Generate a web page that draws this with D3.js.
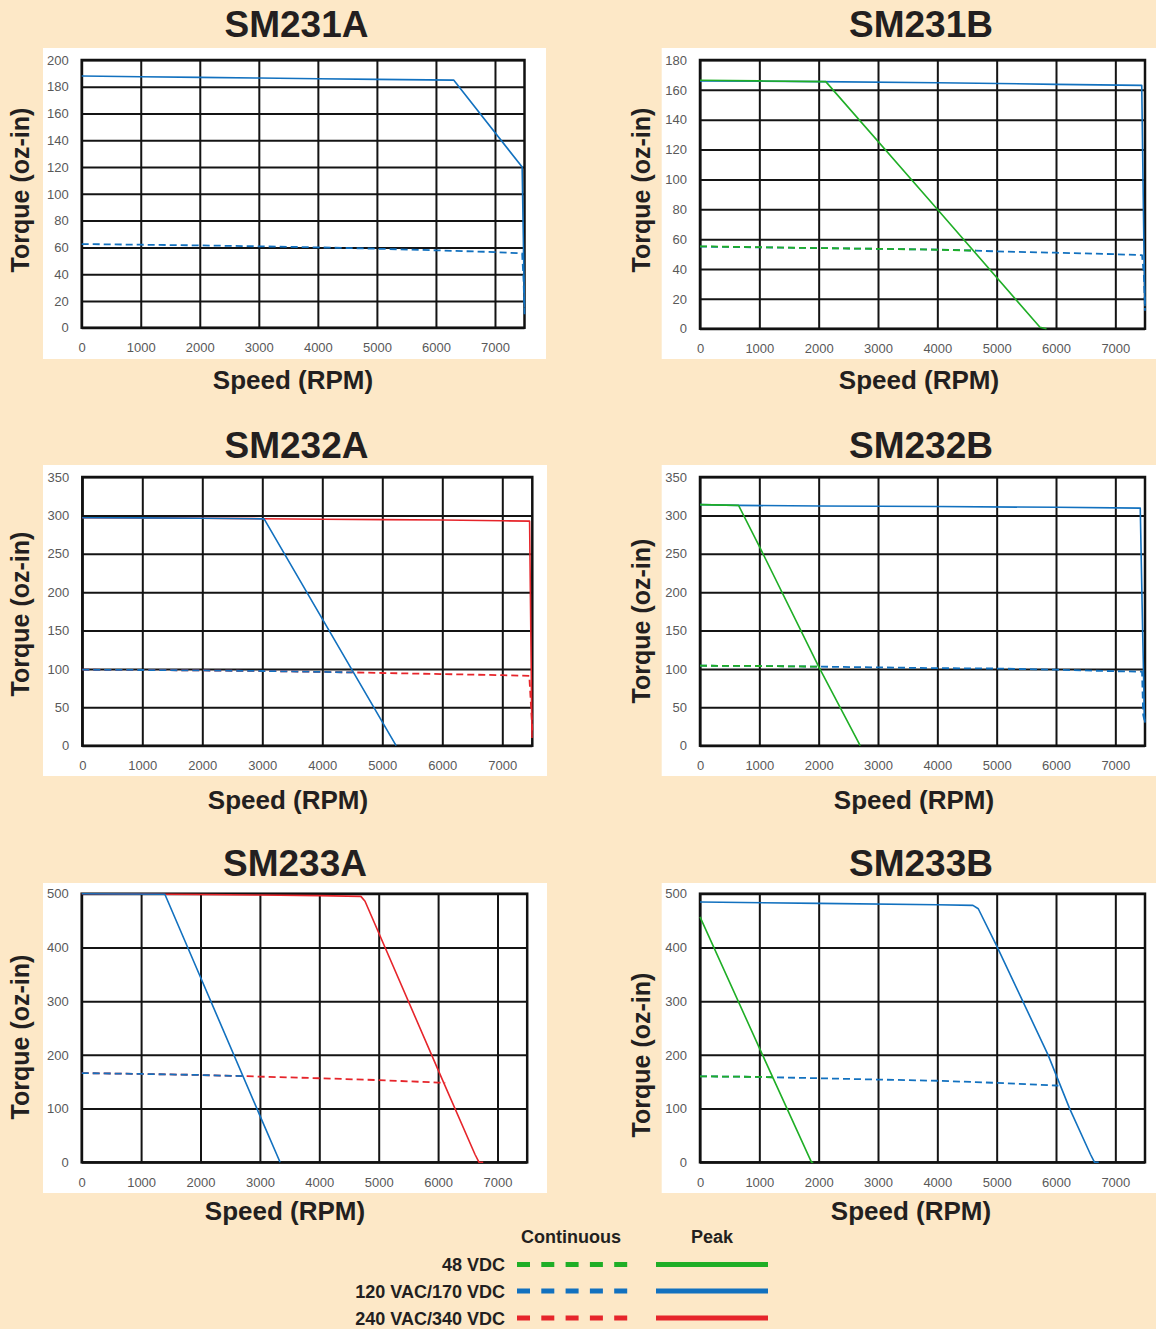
<!DOCTYPE html>
<html>
<head>
<meta charset="utf-8">
<script src="https://cdn.jsdelivr.net/npm/d3@7"></script>
<style>
  body { margin: 0; background: #fde8c7; }
  svg { display: block; }
  .grid line { stroke: #141414; stroke-width: 2; }
  .grid path { display: none; }
  .tick text { fill: #595959; font-family: "Liberation Sans", Arial, sans-serif; font-size: 13px; }
</style>
</head>
<body>
<script>
// ---- data ----
var models = ["SM231A", "SM231B", "SM232A", "SM232B", "SM233A", "SM233B"];
var yMax = [200, 180, 350, 350, 500, 500];
var yStep = [20, 20, 50, 50, 100, 100];
var xTicks = [0, 1000, 2000, 3000, 4000, 5000, 6000, 7000];
var xMax = 7500;
var voltages = ["48 VDC", "120 VAC/170 VDC", "240 VAC/340 VDC"];
var voltColors = ["#1fae26", "#1271bf", "#e6252b"];

// speed (rpm), torque (oz-in)
var sm231aPeak120 = [[0,188],[1000,187.5],[2000,187],[3000,186.5],[4000,186],[5000,185.5],[6300,185],[7460,120],[7500,15]];
var sm231aCont120 = [[0,62.5],[1000,62],[2000,61.5],[3000,60.8],[4000,60],[5000,59],[6000,57.8],[7000,56.5],[7460,55.5],[7485,35],[7500,10]];

var sm231bPeak120 = [[0,166],[2000,165.5],[4000,164.8],[6000,163.7],[7445,163],[7480,60],[7500,15]];
var sm231bPeak48 = [[0,166.4],[1000,166],[2120,165.5],[4000,80],[5730,1],[5840,0]];
var sm231bCont120 = [[0,55],[1000,54.5],[2000,54],[3000,53.5],[4000,53],[4650,52.3],[5000,51.8],[6000,50.9],[7000,49.9],[7450,49.3],[7480,37],[7500,12]];
var sm231bCont48 = [[0,55.2],[1000,54.6],[2000,54],[3000,53.5],[4000,52.9],[4650,52.3]];

var sm232aPeak240 = [[0,297],[1000,296.8],[2000,296.3],[3000,295.7],[4000,295],[5000,294.5],[6000,294],[7000,293],[7455,292.5],[7475,150],[7495,10]];
var sm232aPeak120 = [[0,297],[1000,296.8],[2000,296.3],[3030,295.5],[4000,165.2],[5230,0]];
var sm232aCont240 = [[0,99],[1000,98.6],[2000,98],[3000,97.3],[4500,95.5],[5000,94.7],[6000,93.3],[7000,91.8],[7450,91],[7480,50],[7500,20]];
var sm232aCont120 = [[0,99],[1000,98.6],[2000,98],[3000,97.3],[4500,95.5]];

var sm232bPeak120 = [[0,314],[650,313],[2000,312.3],[4000,311.5],[6000,310.5],[7420,309.5],[7460,150],[7490,40],[7500,30]];
var sm232bPeak48 = [[0,314],[650,313],[1000,259.6],[2000,103],[2700,0]];
var sm232bCont120 = [[0,104.2],[1000,103.8],[2000,103],[3000,102],[4000,101],[5000,100.5],[6000,99],[7000,97],[7450,96.5],[7470,40],[7500,30]];
var sm232bCont48 = [[0,104.2],[1000,103.8],[2000,103]];

var sm233aPeak240 = [[0,500],[1400,499],[2000,498.5],[3000,497.5],[4000,496.5],[4700,495],[4770,486],[6000,172],[6620,15],[6690,0],[6760,0]];
var sm233aPeak120 = [[0,500],[1400,499],[2000,344.5],[3000,87],[3340,0]];
var sm233aCont240 = [[0,166],[1000,164.5],[2000,162.5],[2700,160.5],[3000,159.5],[4000,156.5],[5000,153],[6000,148.5],[6120,148]];
var sm233aCont120 = [[0,166],[1000,164.5],[2000,162.5],[2700,160.5]];

var sm233bPeak120 = [[0,484.5],[2000,482],[4000,479.5],[4600,478.3],[4690,472],[5000,403],[5866,200],[6230,100],[6580,15],[6650,0],[6720,0]];
var sm233bPeak48 = [[0,457],[1000,213],[1880,0],[1910,0]];
var sm233bCont120 = [[0,160],[1000,159],[1230,158.3],[2000,156.5],[3000,154],[4000,151.8],[5000,147.8],[6000,143],[6040,142.5]];
var sm233bCont48 = [[0,160],[1000,159],[1230,158.3]];

// model index, voltage index, continuous?, points  (drawing order)
var series = [
    [0, 1, true, sm231aCont120], [0, 1, false, sm231aPeak120],
    [1, 1, true, sm231bCont120], [1, 1, false, sm231bPeak120], [1, 0, true, sm231bCont48], [1, 0, false, sm231bPeak48],
    [2, 2, true, sm232aCont240], [2, 2, false, sm232aPeak240], [2, 1, true, sm232aCont120], [2, 1, false, sm232aPeak120],
    [3, 1, true, sm232bCont120], [3, 1, false, sm232bPeak120], [3, 0, true, sm232bCont48], [3, 0, false, sm232bPeak48],
    [4, 2, true, sm233aCont240], [4, 2, false, sm233aPeak240], [4, 1, true, sm233aCont120], [4, 1, false, sm233aPeak120],
    [5, 1, true, sm233bCont120], [5, 1, false, sm233bPeak120], [5, 0, true, sm233bCont48], [5, 0, false, sm233bPeak48]
];

// ---- layout ----
// white box [x0,y0,x1,y1], plot [left,top,right,bottom], title, y label, x label anchors
var layout = [
    {box: [43, 48, 546, 359],     plot: [81.7, 60, 524.5, 327.7],   title: [296.5, 37],  ylab: [29, 190],   xlab: [293, 389]},
    {box: [661.7, 48, 1156, 359], plot: [700, 60, 1145, 328.7],     title: [921, 37],    ylab: [650, 190],  xlab: [919, 389]},
    {box: [43, 465, 547, 776],    plot: [82.3, 477, 532.3, 745.7],  title: [296.5, 458], ylab: [29, 614],   xlab: [288, 809]},
    {box: [661.7, 465, 1156, 776],plot: [700, 477, 1145, 745.7],    title: [921, 458],   ylab: [650, 621],  xlab: [914, 809]},
    {box: [43, 883, 547, 1193],   plot: [81.7, 893.7, 527.2, 1162.3], title: [295, 876], ylab: [29, 1037],  xlab: [285, 1220]},
    {box: [661.7, 883, 1156, 1193], plot: [700, 893.7, 1145, 1162.3], title: [921, 876], ylab: [650, 1055], xlab: [911, 1220]}
];

var W = 1156, H = 1329;
var textColor = "#231f20";
var boldFont = "'Liberation Sans', Arial, Helvetica, sans-serif";

var svg = d3.select("body").append("svg").attr("width", W).attr("height", H);
svg.append("rect").attr("width", W).attr("height", H).attr("fill", "#fde8c7");

models.forEach(function(name, i) {
    var L = layout[i];
    var p = L.plot;
    var w = p[2] - p[0], h = p[3] - p[1];

    svg.append("rect")
        .attr("x", L.box[0]).attr("y", L.box[1])
        .attr("width", L.box[2] - L.box[0]).attr("height", L.box[3] - L.box[1])
        .attr("fill", "#fff");

    var x = d3.scaleLinear().domain([0, xMax]).range([0, w]);
    var y = d3.scaleLinear().domain([0, yMax[i]]).range([h, 0]);
    var yTicks = d3.range(0, yMax[i] + 1, yStep[i]);

    var g = svg.append("g").attr("transform", "translate(" + p[0] + "," + p[1] + ")");

    g.append("g").attr("class", "grid")
        .call(d3.axisLeft(y).tickValues(yTicks).tickSize(-w).tickPadding(13).tickFormat(d3.format("d")));
    g.append("g").attr("class", "grid")
        .attr("transform", "translate(0," + h + ")")
        .call(d3.axisBottom(x).tickValues(xTicks).tickSize(-h).tickPadding(15).tickFormat(d3.format("d")));

    g.append("rect").attr("width", w).attr("height", h)
        .attr("fill", "none").attr("stroke", "#111").attr("stroke-width", 2.5);

    var line = d3.line().x(function(d) { return x(d[0]); }).y(function(d) { return y(d[1]); });

    series.filter(function(s) { return s[0] === i; }).forEach(function(s) {
        g.append("path")
            .datum(s[3])
            .attr("d", line)
            .attr("fill", "none")
            .attr("stroke", voltColors[s[1]])
            .attr("stroke-width", s[2] ? 1.8 : 1.6)
            .attr("stroke-dasharray", s[2] ? "7,4" : null)
            .attr("stroke-linejoin", "round");
    });

    svg.append("text")
        .attr("x", L.title[0]).attr("y", L.title[1])
        .attr("text-anchor", "middle")
        .style("font-family", boldFont).style("font-weight", "bold").style("font-size", "37px")
        .attr("fill", textColor)
        .text(name);

    svg.append("text")
        .attr("transform", "translate(" + L.ylab[0] + "," + L.ylab[1] + ")rotate(-90)")
        .attr("text-anchor", "middle")
        .style("font-family", boldFont).style("font-weight", "bold").style("font-size", "25px")
        .attr("fill", textColor)
        .text("Torque (oz-in)");

    svg.append("text")
        .attr("x", L.xlab[0]).attr("y", L.xlab[1])
        .attr("text-anchor", "middle")
        .style("font-family", boldFont).style("font-weight", "bold").style("font-size", "26px")
        .attr("fill", textColor)
        .text("Speed (RPM)");
});

// ---- legend ----
var legend = svg.append("g");
var legRows = [1264.5, 1291, 1318];
var legHead = [["Continuous", 571], ["Peak", 712]];

legHead.forEach(function(hd) {
    legend.append("text")
        .attr("x", hd[1]).attr("y", 1243)
        .attr("text-anchor", "middle")
        .style("font-family", boldFont).style("font-weight", "bold").style("font-size", "18px")
        .attr("fill", textColor)
        .text(hd[0]);
});

voltages.forEach(function(v, k) {
    var yy = legRows[k];
    legend.append("text")
        .attr("x", 505).attr("y", yy + 6.5)
        .attr("text-anchor", "end")
        .style("font-family", boldFont).style("font-weight", "bold").style("font-size", "18px")
        .attr("fill", textColor)
        .text(v);
    legend.append("line")
        .attr("x1", 517).attr("x2", 631).attr("y1", yy).attr("y2", yy)
        .attr("stroke", voltColors[k]).attr("stroke-width", 5)
        .attr("stroke-dasharray", "13,11.3");
    legend.append("line")
        .attr("x1", 656).attr("x2", 768).attr("y1", yy).attr("y2", yy)
        .attr("stroke", voltColors[k]).attr("stroke-width", 5);
});
</script>
</body>
</html>
